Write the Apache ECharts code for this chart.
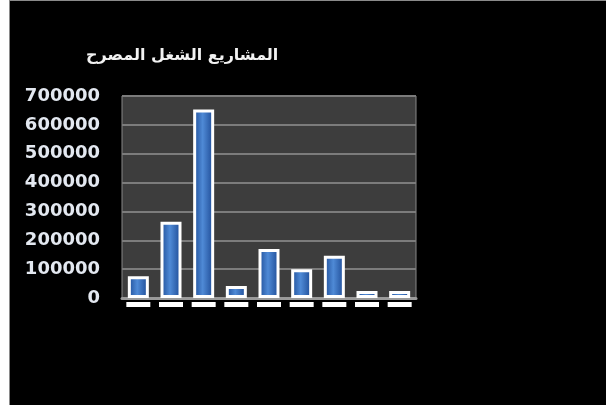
<!DOCTYPE html>
<html>
<head>
<meta charset="utf-8">
<style>
  html, body { margin: 0; padding: 0; background: #000; }
  #chart { width: 606px; height: 405px; }
</style>
<script src="https://cdn.jsdelivr.net/npm/echarts@6/dist/echarts.min.js"></script>
</head>
<body>
<div id="chart"></div>
<script>
// Chart title and data
const chartTitle = 'المشاريع الشغل المصرح';
const categories = ['1', '2', '3', '4', '5', '6', '7', '8', '9'];
const values = [75000, 264000, 653000, 42000, 170000, 100000, 146000, 24000, 24000];
const yTicks = [0, 100000, 200000, 300000, 400000, 500000, 600000, 700000];

const chart = echarts.init(document.getElementById('chart'), null, { renderer: 'canvas' });

const barFill = new echarts.graphic.LinearGradient(0, 0, 1, 0, [
  { offset: 0, color: '#1c4a94' },
  { offset: 0.45, color: '#4f8ad6' },
  { offset: 1, color: '#1a4690' }
]);

chart.setOption({
  backgroundColor: '#000',
  animation: false,
  graphic: [
    { type: 'rect', left: 0, top: 0, shape: { width: 9, height: 405 }, style: { fill: '#fff' }, z: 10 },
    { type: 'rect', left: 9, top: 0, shape: { width: 1, height: 405 }, style: { fill: '#8a8a8a' }, z: 10 },
    { type: 'rect', left: 9, top: 0, shape: { width: 597, height: 1 }, style: { fill: '#8a8a8a' }, z: 10 },
    {
      type: 'text', left: 86, top: 48,
      style: {
        text: chartTitle,
        fill: '#f2f2f2',
        font: '600 16px "DejaVu Sans"'
      }
    }
  ],
  grid: { left: 122, right: 190, top: 96, bottom: 107, show: true, backgroundColor: '#3d3d3d', borderColor: '#888', borderWidth: 1 },
  xAxis: {
    type: 'category',
    data: categories,
    axisLine: { lineStyle: { color: '#9a9a9a', width: 3 } },
    axisTick: { show: false },
    axisLabel: {
      margin: 4,
      formatter: () => ' ',
      backgroundColor: '#fff',
      width: 24,
      height: 5,
      lineHeight: 5,
      fontSize: 4,
      padding: 0
    }
  },
  yAxis: {
    type: 'value',
    min: yTicks[0],
    max: yTicks[yTicks.length - 1],
    interval: 100000,
    axisLine: { show: false },
    axisTick: { show: false },
    splitLine: { lineStyle: { color: '#7c7c7c', width: 2 } },
    axisLabel: {
      margin: 22,
      color: '#e3e8f0',
      fontFamily: 'DejaVu Sans',
      fontWeight: 'bold',
      fontSize: 18,
      formatter: v => String(v)
    }
  },
  series: [{
    type: 'bar',
    data: values,
    barWidth: 21,
    itemStyle: {
      color: barFill,
      borderColor: '#fff',
      borderWidth: 3
    }
  }]
});
</script>
</body>
</html>
